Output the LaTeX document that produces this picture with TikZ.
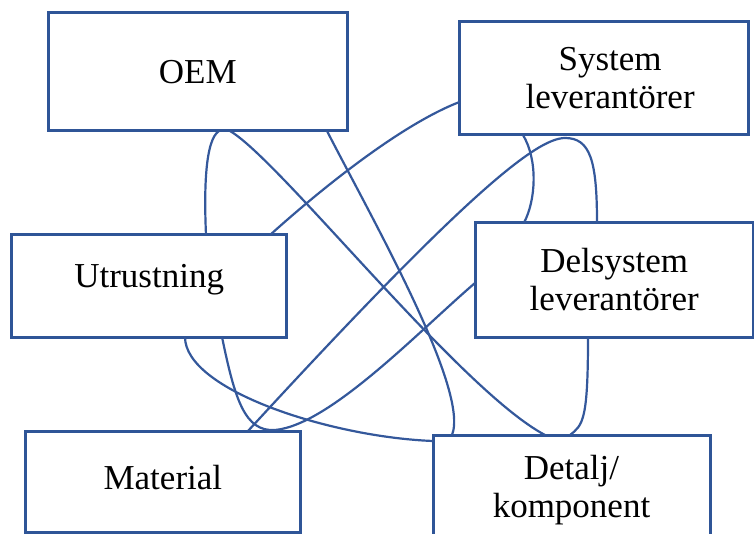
\documentclass[tikz,border=0pt]{standalone}
\usepackage{fontspec}
\setmainfont{Liberation Serif}
\definecolor{edgeblue}{RGB}{47,85,151}
\definecolor{linkblue}{RGB}{52,88,155}
\tikzset{
  box/.style={draw=edgeblue, line width=3pt, rectangle, outer sep=0pt, inner sep=0pt,
    align=center, font=\fontsize{35}{38}\selectfont, text=black},
  link/.style={draw=linkblue, line width=2.2pt}
}
\begin{document}
\begin{tikzpicture}[x=1pt,y=-1pt]
\useasboundingbox (0,0) rectangle (754,534);
% boxes
\node[box, minimum width=298.5pt, minimum height=118.7pt] (oem) at (197.75,71.65) {OEM};
\node[box, minimum width=289.2pt, minimum height=113.3pt] (sys) at (604.1,78.35) {\hspace*{12pt}System\\\hspace*{12pt}leverantörer};
\node[box, minimum width=275pt, minimum height=102pt, text depth=19.6pt] (utr) at (149.2,286) {Utrustning};
\node[box, minimum width=278.5pt, minimum height=114.3pt] (del) at (614.25,279.85) {Delsystem\\leverantörer};
\node[box, minimum width=275.7pt, minimum height=101.5pt, text depth=8pt] (mat) at (162.85,481.75) {Material};
\node[box, minimum width=277pt, minimum height=110pt] (det) at (571.5,490) {Detalj/\\komponent};
% connectors
\draw[link] (oem.south -| 219,0) .. controls (205,140) and (204,190) .. (utr.north -| 206,0);
\draw[link] (oem.south -| 230,0) .. controls (280,160) and (460,390) .. (det.north -| 545,0);
\draw[link] (oem.south -| 327,0) .. controls (370,215) and (470,390) .. (det.north -| 452,0);
\draw[link] (sys.west |- 0,102) .. controls (400,125) and (320,190) .. (utr.north -| 270,0);
\draw[link] (sys.south -| 523,0) .. controls (538,160) and (536,200) .. (del.north -| 524,0);
\draw[link] (mat.north -| 248,0) .. controls (463,197) and (536,138) .. (565,138)
  .. controls (590,138) and (597,160) .. (del.north -| 597,0);
\draw[link] (utr.south -| 222,0) .. controls (235,400) and (245,432) .. (275,430)
  .. controls (330,425) and (420,330) .. (del.west |- 0,283);
\draw[link] (utr.south -| 185,0) .. controls (185,390) and (330,437) .. (det.west |- 0,441);
\draw[link] (del.south -| 588,0) .. controls (588,420) and (583,425) .. (det.north -| 570,0);
\end{tikzpicture}
\end{document}
